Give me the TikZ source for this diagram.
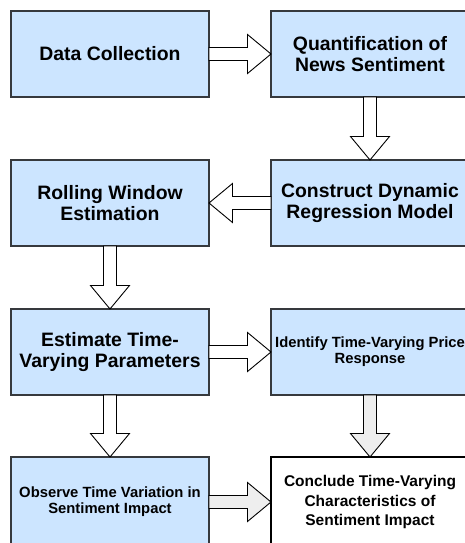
\documentclass[tikz,border=0pt]{standalone}
\usepackage{fontspec}
\setmainfont{Liberation Sans}
\usetikzlibrary{calc}

\definecolor{boxfill}{HTML}{CCE5FF}
\definecolor{boxline}{HTML}{36393D}
\definecolor{arrowgrey}{HTML}{EEEEEE}

% Hollow block arrow from point #2 to point #3
\newcommand{\flexarrow}[3][]{%
  \path ($(#3)!23.5pt!(#2)$) coordinate (fbase);
  \draw[flexarrow,#1]
    ($(#2)!6.5pt!90:(#3)$) -- ($(fbase)!6.5pt!90:(#3)$) --
    ($(fbase)!19.5pt!90:(#3)$) -- (#3) --
    ($(fbase)!19.5pt!-90:(#3)$) -- ($(fbase)!6.5pt!-90:(#3)$) --
    ($(#2)!6.5pt!-90:(#3)$) -- cycle;
}

\tikzset{
  stage/.style={draw=boxline, fill=boxfill, line width=2pt,
    minimum width=198pt, minimum height=86pt, inner sep=0pt, outer sep=0pt,
    align=center, font=\bfseries\fontsize{19.4}{21.5}\selectfont},
  smalltext/.style={font=\bfseries\fontsize{14.8}{16}\selectfont},
  lastrow/.style={minimum height=90pt},
  final/.style={stage, draw=black, fill=white,
    font=\bfseries\fontsize{15.5}{19.3}\selectfont},
  flexarrow/.style={draw=black, line width=0.9pt, fill=white, line join=miter},
  greyarrow/.style={fill=arrowgrey},
}

\begin{document}
\begin{tikzpicture}[x=1pt, y=-1pt]
  \useasboundingbox (0,0) rectangle (465,543);
  \clip (0,0) rectangle (465,543);

  % process stages
  \node[stage] (collect)  at (110,54)  {Data Collection};
  \node[stage] (quant)    at (370,54)  {Quantification of\\News Sentiment};
  \node[stage] (rolling)  at (110,203) {Rolling Window\\Estimation};
  \node[stage] (regress)  at (370,203) {Construct Dynamic\\Regression Model};
  \node[stage] (estimate) at (110,352) {Estimate Time-\\Varying Parameters};
  \node[stage, smalltext] (identify) at (370,352) {Identify Time-Varying Price\\Response};
  \node[stage, smalltext, lastrow] (observe) at (110,502) {Observe Time Variation in\\Sentiment Impact};
  \node[final, lastrow] (conclude) at (370,502) {Conclude Time-Varying\\Characteristics of\\Sentiment Impact};

  % flow between stages
  \flexarrow{collect.east}{quant.west}
  \flexarrow{quant.south}{regress.north}
  \flexarrow{regress.west}{rolling.east}
  \flexarrow{rolling.south}{estimate.north}
  \flexarrow{estimate.east}{identify.west}
  \flexarrow{estimate.south}{observe.north}
  \flexarrow[greyarrow]{identify.south}{conclude.north}
  \flexarrow[greyarrow]{observe.east}{conclude.west}
\end{tikzpicture}
\end{document}
